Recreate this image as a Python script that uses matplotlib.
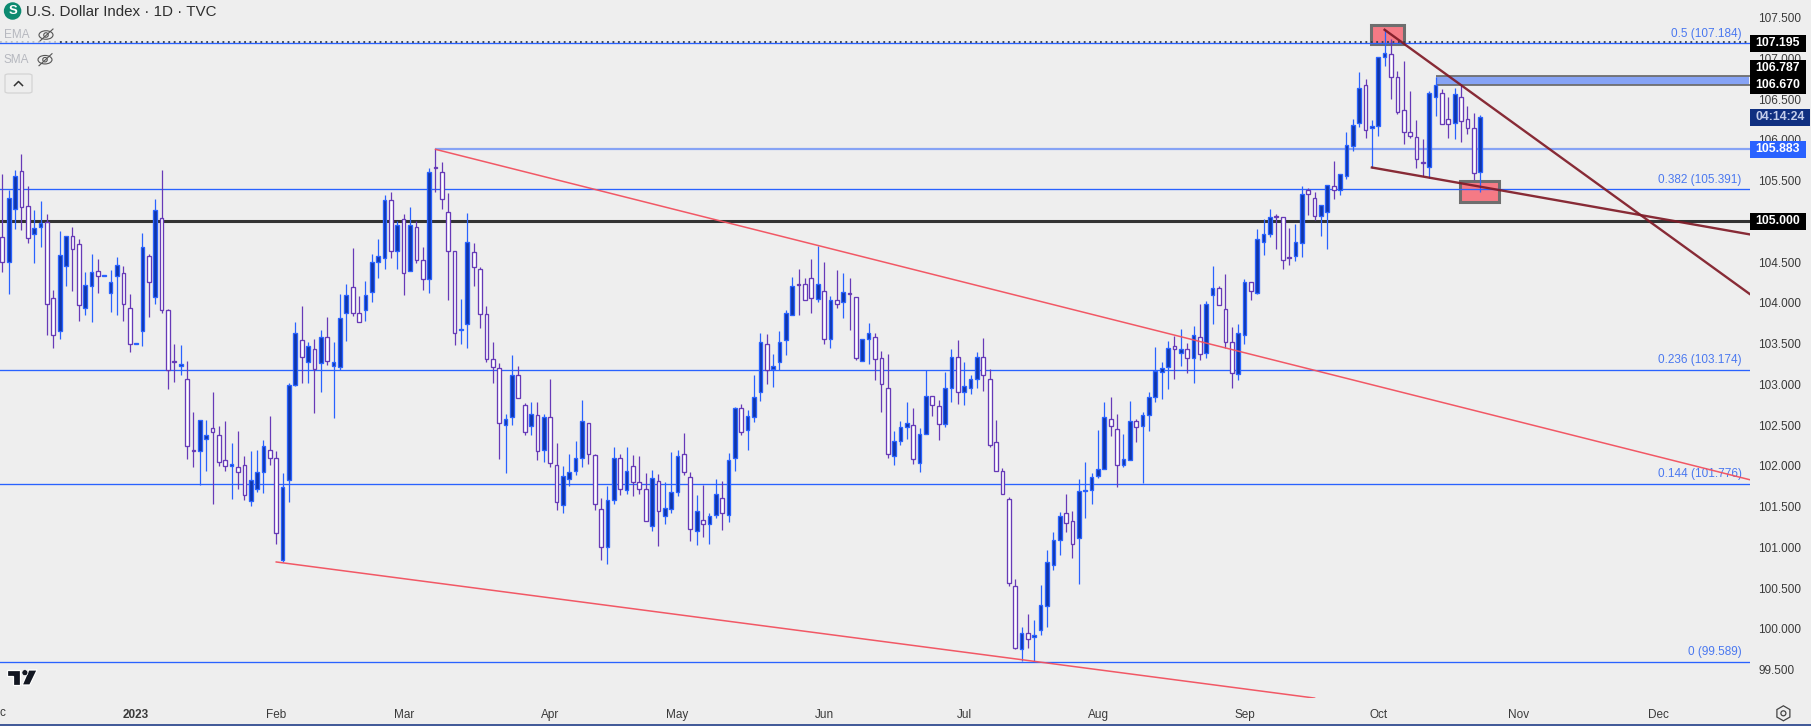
import matplotlib
matplotlib.use("Agg")
import matplotlib.pyplot as plt
from matplotlib.patches import Rectangle, Ellipse, Polygon, RegularPolygon, FancyBboxPatch
from matplotlib.lines import Line2D
from matplotlib.transforms import IdentityTransform

W, H = 1811, 726
BG = "#eeeeee"
FONT = "Liberation Sans"

highs = [
    105.58,105.39,105.63,105.83,105.43,105.14,105.25,105.09,104.16,104.88,
    104.82,104.93,104.78,104.38,104.60,104.54,104.33,104.40,104.56,104.45,
    104.11,103.49,104.86,104.60,105.27,105.63,103.93,103.49,103.48,103.29,
    102.66,102.56,102.56,102.91,102.49,102.55,102.28,102.43,102.12,102.18,
    102.20,102.32,102.61,102.18,101.91,103.01,103.76,103.96,103.52,103.55,
    103.67,103.83,103.52,104.11,104.23,104.67,104.08,104.27,104.60,104.78,
    105.32,105.36,105.00,105.09,105.18,105.00,104.69,105.65,105.89,105.73,
    105.35,104.63,104.05,105.10,104.73,104.44,103.96,103.52,103.26,102.64,
    103.36,103.22,102.77,102.78,102.78,102.64,103.07,102.28,102.00,102.15,
    102.30,102.81,102.52,102.15,101.61,101.75,102.23,102.15,102.23,102.13,
    102.12,101.91,101.95,101.90,101.80,102.17,102.19,102.40,101.92,101.64,
    101.77,101.42,101.84,101.81,102.16,102.72,102.76,102.69,103.11,103.63,
    103.62,103.37,103.65,103.91,104.32,104.42,104.31,104.54,104.70,104.50,
    104.08,104.40,104.37,104.31,104.07,103.55,103.75,103.63,103.41,103.37,
    102.43,102.55,102.78,102.71,102.46,103.17,102.86,102.81,103.15,103.43,
    103.54,103.27,103.11,103.40,103.57,103.19,102.56,101.97,101.62,100.61,
    100.02,100.18,100.11,100.54,100.97,101.19,101.43,101.66,101.45,101.84,
    102.05,101.91,102.44,102.78,102.85,102.63,102.39,102.80,102.58,102.66,
    102.91,103.46,103.27,103.53,103.59,103.68,103.51,103.72,103.99,104.02,
    104.45,104.21,104.35,103.70,103.74,104.29,104.26,104.90,105.03,105.15,
    105.09,105.05,104.92,104.97,105.43,105.41,105.36,105.20,105.44,105.74,
    105.58,106.10,106.26,106.83,106.75,106.24,107.02,107.36,107.24,106.85,
    106.97,106.60,106.24,106.01,106.60,106.77,106.62,106.52,106.63,106.68,
    106.41,106.33,106.31,
]
body_tops = [
    104.81,105.28,105.56,105.62,105.19,104.92,104.98,104.99,104.06,104.59,
    104.82,104.82,104.72,104.22,104.38,104.39,104.33,104.26,104.46,104.37,
    103.94,103.49,104.68,104.58,105.14,105.04,103.91,103.29,103.25,103.06,
    102.20,102.56,102.38,102.46,102.38,102.07,102.02,101.98,102.01,101.82,
    101.92,102.24,102.19,102.09,101.74,102.99,103.63,103.54,103.47,103.43,
    103.58,103.58,103.27,103.81,104.09,104.20,103.88,104.09,104.50,104.58,
    105.26,105.26,104.95,105.03,104.96,104.93,104.52,105.61,105.67,105.61,
    105.12,104.63,103.67,104.74,104.62,104.41,103.86,103.31,103.20,102.58,
    103.11,103.11,102.75,102.64,102.62,102.60,102.60,102.01,101.88,101.92,
    102.09,102.55,102.52,102.13,101.47,101.58,102.09,102.10,101.94,102.00,
    101.80,101.72,101.85,101.81,101.48,101.68,102.12,102.14,101.86,101.44,
    101.34,101.39,101.65,101.61,102.07,102.71,102.71,102.61,102.85,103.52,
    103.50,103.23,103.52,103.88,104.20,104.22,104.23,104.30,104.23,104.14,
    104.04,104.04,104.13,104.11,104.07,103.55,103.63,103.58,103.32,102.96,
    102.30,102.47,102.53,102.50,102.39,102.86,102.86,102.73,102.96,103.34,
    103.34,102.98,103.07,103.34,103.34,103.07,102.29,101.94,101.59,100.52,
    99.95,99.95,99.92,100.29,100.82,101.09,101.38,101.42,101.32,101.69,
    101.70,101.86,101.96,102.60,102.58,102.45,102.08,102.55,102.55,102.62,
    102.85,103.16,103.20,103.44,103.47,103.43,103.43,103.60,103.58,103.99,
    104.18,104.18,103.92,103.52,103.63,104.26,104.26,104.78,104.84,105.05,
    105.05,105.05,104.55,104.75,105.33,105.38,105.29,105.20,105.44,105.43,
    105.58,105.94,106.18,106.64,106.67,106.17,107.02,107.07,107.05,106.77,
    106.36,106.09,106.03,105.72,106.57,106.67,106.57,106.25,106.56,106.53,
    106.25,106.15,106.28,
]
body_bottoms = [
    104.50,104.50,105.15,105.17,104.80,104.85,104.93,103.99,103.61,103.66,
    104.45,104.66,103.97,103.94,104.21,104.33,104.33,104.12,104.33,103.98,
    103.49,103.49,103.66,104.26,104.07,103.91,103.17,103.27,103.22,102.24,
    102.18,102.18,102.33,102.41,102.05,102.00,102.00,101.92,101.64,101.57,
    101.71,101.92,102.09,101.17,100.85,101.83,102.99,103.33,103.27,103.19,
    103.26,103.29,103.22,103.21,103.88,103.88,103.76,103.91,104.13,104.50,
    104.55,104.63,104.63,104.37,104.39,104.52,104.29,104.29,105.65,105.27,
    104.63,103.63,103.67,103.74,104.44,103.86,103.31,103.21,102.53,102.50,
    102.60,102.83,102.42,102.49,102.18,102.19,102.04,101.56,101.52,101.84,
    101.94,102.09,102.14,101.53,101.00,101.00,101.58,101.72,101.70,101.80,
    101.72,101.32,101.26,101.44,101.39,101.47,101.68,101.93,101.22,101.20,
    101.28,101.28,101.40,101.42,101.40,102.09,102.42,102.44,102.60,102.90,
    103.18,103.19,103.27,103.54,103.85,104.22,104.04,104.06,104.05,103.56,
    103.56,103.99,104.01,104.11,103.32,103.29,103.55,103.31,103.00,102.14,
    102.12,102.30,102.48,102.08,102.03,102.39,102.75,102.51,102.51,102.95,
    102.91,102.91,102.96,103.07,103.11,102.26,101.94,101.65,100.56,99.77,
    99.75,99.88,99.90,99.98,100.28,100.78,101.09,101.30,101.04,101.11,
    101.69,101.70,101.87,101.96,102.49,102.01,102.01,102.07,102.47,102.49,
    102.62,102.85,103.15,103.21,103.43,103.39,103.32,103.32,103.37,103.39,
    104.09,103.97,103.52,103.14,103.13,103.61,104.15,104.12,104.74,104.85,
    105.05,104.52,104.55,104.57,104.73,105.33,105.07,105.07,105.11,105.38,
    105.38,105.56,105.93,106.21,106.12,106.14,106.17,107.02,106.77,106.34,
    106.09,106.05,105.76,105.72,105.67,106.52,106.20,106.19,106.21,106.23,
    106.15,105.59,105.61,
]
lows = [
    104.38,104.11,104.90,104.89,104.73,104.49,104.68,103.60,103.45,103.55,
    104.21,104.14,103.78,103.85,103.76,104.12,104.33,103.89,103.85,103.78,
    103.40,103.49,103.47,103.83,103.99,103.88,102.94,103.03,103.11,102.08,
    101.99,101.77,101.94,101.53,102.00,101.94,101.59,101.72,101.58,101.51,
    101.68,101.67,102.01,101.04,100.82,101.55,102.98,103.01,103.01,102.65,
    102.91,103.24,102.59,103.18,103.53,103.84,103.76,103.78,104.01,104.30,
    104.42,104.55,104.42,104.10,104.39,104.49,104.16,104.12,105.36,105.15,
    104.03,103.48,103.49,103.45,104.21,103.69,103.27,103.01,102.08,101.91,
    102.50,102.83,102.38,102.38,102.07,102.05,101.99,101.46,101.42,101.75,
    101.89,101.99,102.02,101.46,100.84,100.80,101.53,101.64,101.66,101.63,
    101.66,101.32,101.20,101.02,101.29,101.42,101.63,101.89,101.08,101.03,
    101.13,101.04,101.36,101.21,101.31,101.94,102.38,102.20,102.54,102.80,
    103.00,102.97,103.17,103.36,103.85,103.85,104.04,103.88,104.01,103.49,
    103.44,103.94,103.81,103.67,103.30,103.29,103.25,103.05,102.66,102.10,
    102.01,102.26,102.33,102.02,101.92,102.39,102.61,102.32,102.48,102.78,
    102.76,102.75,102.88,102.96,102.92,102.23,101.94,101.65,100.52,99.75,
    99.60,99.76,99.60,99.93,100.02,100.72,100.90,101.19,100.87,100.55,
    101.36,101.53,101.85,101.96,102.37,101.74,101.98,102.07,102.29,101.79,
    102.43,102.78,102.82,102.94,103.07,103.23,103.14,103.02,103.30,103.32,
    103.74,103.97,103.45,102.95,103.05,103.50,104.03,104.11,104.59,104.81,
    104.66,104.41,104.46,104.51,104.56,105.08,105.02,104.82,104.66,105.27,
    105.32,105.52,105.86,106.16,106.02,105.66,106.05,106.91,106.50,106.32,
    105.95,106.02,105.65,105.55,105.53,106.29,106.19,106.02,106.01,105.97,
    106.07,105.51,105.36,
]
directions = (
    "DUUDDUUDDU" "UDDUUDUUUD" "DUUDUDDDUD" "DUUDDDUDDU" "UUDDUUUDUD" "UDUUUDDUUU"
    "UDUDUDDUDD" "DDUUDDDDDU" "UDDUDUDDUU" "UUDDDUUDUD" "DDUDUUUDDU" "DUUDUUDUUU"
    "DUUUUDDDUD" "UDUDDUUDDD" "UUUDUUDDUU" "DUUUDDDDDD" "UDUUUUUDDU" "UUUUDDUUDU"
    "UUUUDUDUDU" "UDDDUUDUUU" "DDDUUDDUUD" "UUUUDUUUDD" "DDDDUUDDUD" "DDU"
)
assert len(highs) == len(body_tops) == len(body_bottoms) == len(lows) == len(directions) == 233

month_bars = [21, 43, 63, 86, 106, 129, 151, 172, 195, 216, 238, 260]
month_labels = ["2023", "Feb", "Mar", "Apr", "May", "Jun", "Jul", "Aug", "Sep", "Oct", "Nov", "Dec"]
price_ticks = [99.5 + 0.5 * k for k in range(17)]

fib_levels = [107.184, 105.391, 103.174, 101.776, 99.589]
fib_names = ["0.5", "0.382", "0.236", "0.144", "0"]
resistance_level = 105.0
dotted_level = 107.195
last_price = 105.883
zone_top, zone_bottom = 106.787, 106.670

fig = plt.figure(figsize=(W / 100, H / 100), dpi=100, facecolor=BG)
plt.rcParams["font.family"] = FONT

AX_R, AX_B = 1749.5, 698.0
ax = fig.add_axes([0, 1 - AX_B / H, AX_R / W, AX_B / H], facecolor=BG)
X0 = -2.33 / 6.37
X1 = (AX_R - 2.33) / 6.37
ax.set_xlim(X0, X1)
ax.set_ylim(105 - (AX_B - 221.3) / 81.5, 105 + 221.3 / 81.5)
for s in ax.spines.values():
    s.set_visible(False)
ax.set_axisbelow(True)

ax.yaxis.tick_right()
ax.set_yticks(price_ticks)
ax.set_yticklabels([f"{v:.3f}" for v in price_ticks], fontsize=8.5, color="#3a3a3a", family=FONT)
ax.tick_params(axis="y", length=0, pad=6.3)
ax.set_xticks(month_bars)
ax.set_xticklabels(month_labels, fontsize=8.5, color="#3a3a3a", family=FONT)
ax.tick_params(axis="x", length=0, pad=8.0)
ax.get_xticklabels()[0].set_fontweight("bold")
ax.text(-1.15, -14.7 / AX_B, "Dec", transform=ax.get_xaxis_transform(), ha="center", va="center",
        fontsize=8.5, color="#3a3a3a", family=FONT, clip_on=False)

# shaded zones under the candles
GREY = "#6e6e6e"
PINK = "#f57a85"
ax.add_patch(Rectangle((214.9, 107.17), 220.0 - 214.9, 107.41 - 107.17, fc=PINK, ec=GREY, lw=2.2, zorder=1.5))
ax.add_patch(Rectangle((228.9, 105.24), 235.0 - 228.9, 105.50 - 105.24, fc=PINK, ec=GREY, lw=2.2, zorder=1.5))
ax.add_patch(Rectangle((225.0, zone_bottom), X1 - 225.0, zone_top - zone_bottom, fc="#86a3f5", ec="none", zorder=1.5))
ax.plot([225.0, X1], [zone_top, zone_top], color=GREY, lw=1.3, zorder=1.6, solid_capstyle="butt")
ax.plot([225.0, X1], [zone_bottom, zone_bottom], color=GREY, lw=1.3, zorder=1.6, solid_capstyle="butt")

# horizontal levels
for lv in fib_levels:
    ax.axhline(lv, color="#2962ff", lw=0.95, zorder=2)
ax.axhline(resistance_level, color="#333333", lw=2.2, zorder=2)
ax.plot([X0, 9], [dotted_level, dotted_level], color="#b4b8c4", lw=1.3, ls=(0, (1, 2)), zorder=2.1)
ax.plot([9, X1], [dotted_level, dotted_level], color="#333a4a", lw=1.3, ls=(0, (1, 2)), zorder=2.1)
ax.plot([68, X1], [last_price, last_price], color="#86a3f5", lw=1.6, zorder=2, solid_capstyle="butt")

for lv, nm in zip(fib_levels, fib_names):
    ax.annotate(f"{nm} ({lv:.3f})", xy=(X1, lv), xytext=(-8, 9.7 if nm != "0" else 10.6),
                textcoords="offset pixels", ha="right", va="center", fontsize=8.5,
                color="#4a78f0", family=FONT, annotation_clip=False)

# candles
xs = list(range(len(highs)))
BODY_W = 3.7 / 6.37
for color, key, fc in (("#2962ff", "U", "#0f35a8"), ("#673ab7", "D", "#ffffff")):
    idx = [i for i in xs if directions[i] == key]
    ax.vlines(idx, [lows[i] for i in idx], [highs[i] for i in idx], colors=color, lw=0.9, zorder=3)
    ax.bar(idx, [max(body_tops[i] - body_bottoms[i], 0.012) for i in idx], bottom=[body_bottoms[i] for i in idx],
           width=BODY_W, facecolor=fc, edgecolor=color, linewidth=0.95, zorder=3.2)

# trend lines
RED = "#f2505e"
DARK = "#7f1a26"
ax.plot([68, X1], [105.883, 101.83], color=RED, lw=1.1, alpha=0.95, zorder=4)
ax.plot([43, 206], [100.82, 99.15], color=RED, lw=1.1, alpha=0.95, zorder=4)
ax.plot([217, X1], [107.35, 104.11], color=DARK, lw=1.7, alpha=0.92, zorder=4.2)
ax.plot([215, X1], [105.66, 104.84], color=DARK, lw=1.7, alpha=0.92, zorder=4.2)


def fx(x):
    return x / W


def fy(y):
    return 1 - y / H


def tag(top, bottom, text, fc, tc="#ffffff", right=1806.0, bold=True):
    fig.add_artist(Rectangle((fx(1750), fy(bottom)), fx(right - 1750), (bottom - top) / H,
                             transform=fig.transFigure, fc=fc, ec="none", zorder=10))
    fig.text(fx(1778 if right < 1808 else 1780), fy((top + bottom) / 2 - 0.3), text, color=tc, fontsize=8.8,
             fontweight="bold" if bold else "normal", ha="center", va="center", family=FONT, zorder=11)


tag(35, 51.7, f"{dotted_level:.3f}", "#000000")
tag(60, 77, f"{zone_top:.3f}", "#000000")
tag(77.3, 94, f"{zone_bottom:.3f}", "#000000")
tag(109, 125.7, "04:14:24", "#0f2f80", tc="#c3cdea", right=1810)
tag(141.3, 158, f"{last_price:.3f}", "#2962ff")
tag(213.3, 230, f"{resistance_level:.3f}", "#000000")

# legend header
fig.add_artist(Ellipse((fx(12.6), fy(11)), 17.5 / W, 17.5 / H, transform=fig.transFigure, fc="#0c8a70", ec="none", zorder=10))
fig.text(fx(12.6), fy(11), "S", color="white", fontsize=9.5, fontweight="bold", ha="center", va="center",
         family=FONT, zorder=11)
fig.text(fx(26.5), fy(11.7), "U.S. Dollar Index · 1D · TVC", color="#2e2e2e", fontsize=10.9, ha="left",
         va="center", family=FONT, zorder=11)
for y, lab, ex in ((35, "EMA", 46), (59.7, "SMA", 45)):
    fig.text(fx(4), fy(y), lab, color="#b6b8bf", fontsize=8.5, ha="left", va="center", family=FONT, zorder=11)
    fig.add_artist(Ellipse((fx(ex), fy(y)), 14 / W, 8.5 / H, transform=fig.transFigure, fc="none", ec="#555555", lw=0.8, zorder=11))
    fig.add_artist(Ellipse((fx(ex), fy(y)), 4.5 / W, 4.5 / H, transform=fig.transFigure, fc="none", ec="#555555", lw=0.8, zorder=11))
    fig.add_artist(Line2D([fx(ex - 6), fx(ex + 7)], [fy(y + 6), fy(y - 6)], transform=fig.transFigure, color="#555555", lw=0.8, zorder=11))
fig.add_artist(FancyBboxPatch((fx(5), fy(93)), 27 / W, 19 / H, boxstyle="round,pad=0,rounding_size=0.002",
                              transform=fig.transFigure, fc=BG, ec="#d4d4d4", lw=0.9, zorder=10))
fig.add_artist(Line2D([fx(14.5), fx(18.5), fx(22.5)], [fy(85.5), fy(81.5), fy(85.5)], transform=fig.transFigure,
                      color="#333333", lw=1.1, zorder=11))

# TradingView mark
tvx = lambda d: fx(d / 2.613)
tvy = lambda d: fy(360 + d / 3)
for pts in ([(17, 930), (52, 930), (52, 975), (33, 975), (33, 948), (17, 948)],
            [(97, 930), (78, 975), (58, 975), (75, 930)]):
    fig.add_artist(Polygon([(tvx(a), tvy(b)) for a, b in pts], closed=True, transform=fig.transFigure,
                           fc="#131722", ec="white", lw=0.9, zorder=10))
fig.add_artist(Ellipse((tvx(65), tvy(938)), 6 / W, 6 / H, transform=fig.transFigure, fc="#131722", ec="white", lw=0.5, zorder=10))

# gear and bottom rule
fig.add_artist(RegularPolygon((1783.4, H - 713.3), 6, radius=7.5, orientation=0.0, transform=IdentityTransform(),
                              fc="none", ec="#444444", lw=0.9, zorder=11))
fig.add_artist(Ellipse((fx(1783.4), fy(713.3)), 5 / W, 5 / H, transform=fig.transFigure, fc="none", ec="#444444", lw=0.9, zorder=11))
fig.add_artist(Line2D([0, 1], [fy(725.2), fy(725.2)], transform=fig.transFigure, color="#0f2f80", lw=1.1, zorder=11))

fig.savefig("out.png", dpi=100, facecolor=BG)
